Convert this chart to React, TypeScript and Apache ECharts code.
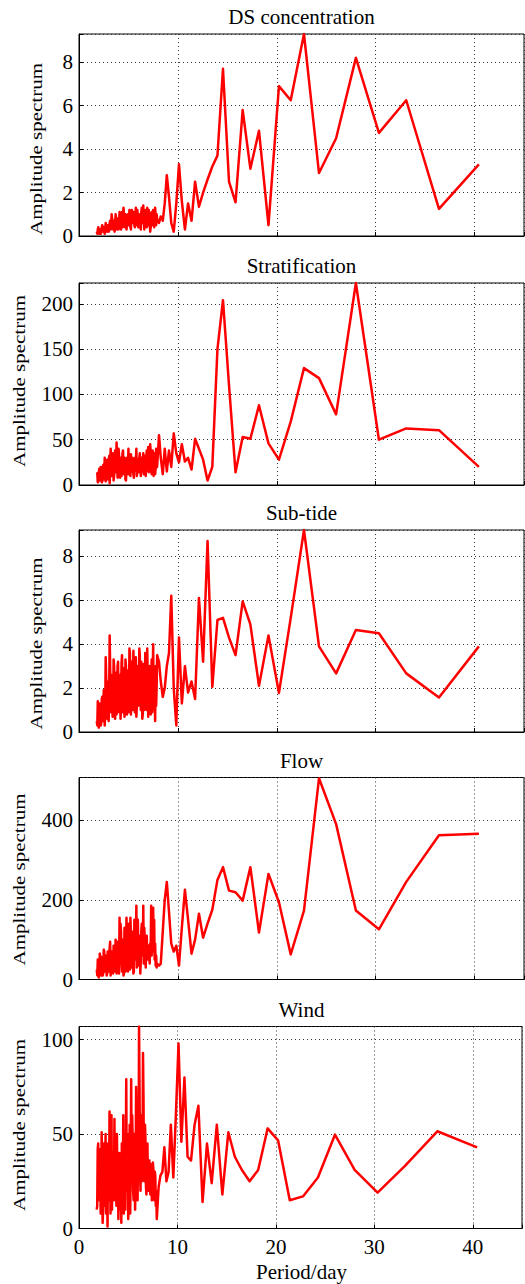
import React, { useEffect, useRef } from "react";
import * as echarts from "echarts";

// Periods (days): harmonics 364/k for k = 9..45, then the dense short-period band (step 0.05)
const PERIODS = [
  40.44, 36.4, 33.09, 30.33, 28.0, 26.0, 24.27, 22.75, 21.41, 20.22,
  19.16, 18.2, 17.33, 16.55, 15.83, 15.17, 14.56, 14.0, 13.48, 13.0,
  12.55, 12.13, 11.74, 11.38, 11.03, 10.71, 10.4, 10.11, 9.84, 9.58,
  9.33, 9.1, 8.88, 8.67, 8.47, 8.27, 8.09,
  7.9, 7.85, 7.8, 7.75, 7.7, 7.65, 7.6, 7.55, 7.5, 7.45, 7.4, 7.35, 7.3, 7.25, 7.2, 7.15, 7.1, 7.05, 7.0, 6.95,
  6.9, 6.85, 6.8, 6.75, 6.7, 6.65, 6.6, 6.55, 6.5, 6.45, 6.4, 6.35, 6.3, 6.25, 6.2, 6.15, 6.1, 6.05, 6.0, 5.95,
  5.9, 5.85, 5.8, 5.75, 5.7, 5.65, 5.6, 5.55, 5.5, 5.45, 5.4, 5.35, 5.3, 5.25, 5.2, 5.15, 5.1, 5.05, 5.0, 4.95,
  4.9, 4.85, 4.8, 4.75, 4.7, 4.65, 4.6, 4.55, 4.5, 4.45, 4.4, 4.35, 4.3, 4.25, 4.2, 4.15, 4.1, 4.05, 4.0, 3.95,
  3.9, 3.85, 3.8, 3.75, 3.7, 3.65, 3.6, 3.55, 3.5, 3.45, 3.4, 3.35, 3.3, 3.25, 3.2, 3.15, 3.1, 3.05, 3.0, 2.95,
  2.9, 2.85, 2.8, 2.75, 2.7, 2.65, 2.6, 2.55, 2.5, 2.45, 2.4, 2.35, 2.3, 2.25, 2.2, 2.15, 2.1, 2.05, 2.0, 1.95,
  1.9, 1.85, 1.8,
];

const DS_CONCENTRATION = [
  3.3, 1.25, 6.25, 4.75, 8.2, 4.5, 2.9, 9.3, 6.25, 6.9,
  0.5, 4.85, 3.1, 5.8, 1.55, 2.5, 7.7, 3.7, 3.2, 2.6,
  2.0, 1.35, 2.5, 0.7, 1.5, 0.3, 1.6, 3.3, 1.5, 0.2,
  0.6, 1.8, 2.8, 1.5, 0.7, 0.9, 0.6,
  0.8, 1.0, 0.5, 0.9, 1.3, 0.6, 0.4, 0.9, 1.2, 0.5, 0.7, 1.1, 1.0, 0.4, 0.2, 0.6, 0.9, 1.2, 0.5, 0.8,
  1.3, 0.4, 0.6, 1.2, 1.0, 0.7, 0.3, 0.9, 1.4, 1.0, 0.6, 1.3, 1.1, 0.3, 0.5, 1.0, 0.9, 0.6, 0.4, 0.8,
  1.2, 0.5, 0.7, 1.3, 1.0, 0.4, 0.5, 0.9, 1.1, 0.7, 0.6, 1.2, 0.9, 0.3, 0.4, 0.8, 1.2, 0.7, 0.5, 1.0,
  0.8, 0.5, 0.3, 0.9, 1.0, 0.4, 0.6, 1.0, 1.3, 0.7, 0.4, 1.1, 0.9, 0.3, 0.5, 0.8, 1.1, 0.6, 0.3, 0.7,
  0.8, 0.3, 0.5, 0.8, 1.0, 0.5, 0.2, 0.6, 0.7, 0.3, 0.4, 0.8, 1.0, 0.5, 0.3, 0.7, 0.6, 0.3, 0.2, 0.5,
  0.5, 0.2, 0.3, 0.5, 0.6, 0.3, 0.1, 0.4, 0.4, 0.2, 0.2, 0.5, 0.4, 0.2, 0.1, 0.3, 0.3, 0.1, 0.1, 0.4,
  0.3, 0.1, 0.2,
];

const STRATIFICATION = [
  20, 60.5, 62.5, 50, 223, 78, 118, 129, 70, 28,
  46, 88, 51, 53, 14, 110, 204, 150, 20, 5,
  28, 40, 51, 17, 30, 26, 45, 25, 35, 57,
  20, 38, 15, 40, 12, 30, 55,
  20, 33, 40, 18, 12, 28, 35, 10, 18, 38, 30, 12, 15, 36, 45, 22, 20, 14, 42, 25,
  16, 38, 30, 10, 14, 32, 25, 12, 35, 20, 15, 30, 28, 10, 18, 35, 30, 20, 14, 28,
  22, 10, 40, 25, 16, 30, 25, 8, 12, 28, 30, 15, 20, 34, 10, 22, 24, 12, 40, 20,
  12, 30, 18, 5, 6, 22, 30, 12, 14, 38, 35, 18, 10, 30, 25, 8, 16, 33, 40, 15,
  8, 30, 47, 20, 14, 38, 30, 10, 5, 25, 35, 12, 10, 28, 40, 15, 2, 32, 25, 6,
  8, 28, 22, 10, 4, 20, 30, 12, 6, 22, 18, 4, 3, 15, 20, 6, 5, 18, 14, 4,
  3, 13, 12,
];

const SUB_TIDE = [
  3.9, 1.57, 2.67, 4.5, 4.65, 2.67, 3.9, 9.2, 5.2, 1.78,
  4.4, 2.1, 4.9, 5.95, 3.5, 4.3, 5.2, 5.1, 2.05, 8.7,
  3.2, 6.1, 1.5, 2.3, 1.8, 3.0, 1.3, 4.3, 0.3, 2.0,
  6.2, 3.6, 3.0, 2.0, 1.6, 2.3, 3.2,
  3.5, 2.0, 1.2, 3.0, 0.5, 1.8, 2.6, 1.0, 4.0, 2.2, 0.9, 3.3, 2.4, 0.8, 1.1, 2.8, 3.0, 1.4, 0.7, 2.5,
  3.8, 1.0, 1.6, 2.9, 3.6, 1.3, 1.0, 3.1, 2.5, 0.8, 0.6, 2.7, 3.2, 1.0, 1.8, 3.5, 3.8, 1.5, 1.2, 2.6,
  3.0, 1.2, 0.7, 3.4, 2.6, 0.9, 1.5, 2.8, 3.7, 1.4, 1.0, 2.5, 3.2, 0.8, 1.6, 3.6, 3.8, 1.3, 0.9, 2.7,
  2.8, 0.8, 1.3, 3.0, 3.3, 1.1, 0.7, 2.4, 2.9, 0.9, 1.5, 3.5, 3.1, 1.2, 0.6, 2.6, 2.4, 0.9, 1.2, 3.2,
  3.0, 1.0, 0.8, 2.7, 2.2, 0.6, 1.4, 3.0, 3.3, 1.2, 0.7, 2.5, 2.6, 0.9, 1.1, 3.0, 4.4, 1.5, 0.5, 2.3,
  2.0, 0.6, 0.9, 2.5, 3.4, 1.0, 0.3, 1.8, 1.9, 0.5, 0.6, 1.6, 1.5, 0.4, 0.3, 1.2, 1.3, 0.3, 0.2, 1.1,
  1.4, 0.3, 0.5,
];

const FLOW = [
  366, 362, 245, 126, 173, 390, 505, 173, 63, 194,
  265, 118, 282, 198, 219, 223, 282, 250, 175, 140,
  105, 165, 100, 65, 150, 225, 130, 35, 85, 70,
  90, 170, 245, 200, 120, 40, 35,
  40, 30, 60, 35, 90, 50, 150, 70, 180, 100, 120, 60, 185, 75, 90, 40, 60, 80, 85, 50,
  55, 110, 95, 30, 60, 100, 130, 40, 185, 60, 80, 140, 120, 45, 15, 90, 110, 35, 80, 150,
  125, 30, 185, 70, 50, 120, 150, 20, 15, 90, 120, 30, 40, 110, 155, 25, 60, 140, 125, 20,
  30, 110, 155, 40, 20, 90, 130, 15, 10, 80, 100, 20, 45, 120, 140, 60, 155, 15, 30, 75,
  95, 30, 15, 85, 100, 20, 40, 75, 85, 15, 20, 65, 70, 25, 10, 95, 80, 20, 35, 60,
  70, 15, 10, 55, 60, 20, 25, 70, 75, 15, 10, 45, 55, 10, 20, 60, 65, 15, 5, 40,
  50, 10, 25,
];

const WIND = [
  43, 51.5, 33, 19, 31, 49.7, 27, 17, 15, 46.7,
  53, 31, 25, 31, 38, 51, 18, 55, 24, 45,
  14, 65, 55, 36, 38, 80, 46, 98, 60, 27,
  55, 30, 25, 43, 30, 28, 22,
  5, 20, 12, 28, 30, 15, 20, 32, 35, 22, 15, 30, 34, 18, 24, 36, 30, 20, 26, 45,
  40, 18, 22, 48, 55, 25, 30, 70, 93, 35, 25, 60, 50, 20, 30, 75, 107, 30, 40, 15,
  23, 60, 75, 28, 10, 45, 50, 15, 20, 48, 60, 25, 79, 30, 8, 55, 40, 12, 5, 45,
  50, 20, 79, 35, 10, 50, 40, 8, 60, 25, 15, 45, 3, 30, 38, 10, 40, 20, 5, 35,
  30, 50, 12, 40, 45, 20, 58, 15, 15, 40, 35, 10, 60, 30, 8, 50, 62, 15, 20, 45,
  1, 30, 35, 8, 50, 20, 12, 45, 40, 10, 3, 38, 51, 12, 8, 42, 40, 18, 15, 45,
  42, 12, 10,
];

const TITLES = ["DS concentration", "Stratification", "Sub-tide", "Flow", "Wind"];
const SERIES = [DS_CONCENTRATION, STRATIFICATION, SUB_TIDE, FLOW, WIND];
const Y_MAX = [9.3, 223, 9.2, 507, 107];
const Y_INTERVAL = [2, 50, 2, 200, 50];
const X_TICKS = [0, 10, 20, 30, 40];
const X_NAME = "Period/day";
const Y_NAME = "Amplitude spectrum";

export default function App() {
  const ref = useRef<HTMLDivElement>(null);

  useEffect(() => {
    if (!ref.current) return;
    const chart = echarts.init(ref.current, null, { renderer: "svg" });
    const FONT = "'Liberation Serif', 'Times New Roman', serif";
    const tops = [34, 283, 530, 777.5, 1026.5];
    const H = 202;
    const LEFT = 79;
    const W = 445;
    const yNameX = [36, 19, 36, 19, 19];
    const yNameY = [149, 381, 643.5, 879.5, 1125];

    const grid = tops.map((t) => ({
      left: LEFT,
      top: t,
      width: W,
      height: H,
      show: true,
      borderColor: "#000",
      borderWidth: 1,
      backgroundColor: "transparent",
    }));

    const gridLine = { color: "#333", type: [1, 3] as any, width: 1 };

    const xAxis = tops.map((_, i) => ({
      type: "value",
      gridIndex: i,
      min: 0,
      max: 45,
      interval: 10,
      axisLine: { show: true, onZero: false, lineStyle: { color: "#000", width: 1 } },
      axisTick: { show: true, inside: true, length: 4, lineStyle: { color: "#000" } },
      axisLabel: {
        show: i === tops.length - 1,
        formatter: (v: number) => (X_TICKS.includes(v) ? String(v) : ""),
        color: "#000",
        fontFamily: FONT,
        fontSize: 21,
        margin: 8,
      },
      splitLine: { show: true, lineStyle: gridLine },
    }));

    const yAxis = tops.map((_, i) => ({
      type: "value",
      gridIndex: i,
      min: 0,
      max: Y_MAX[i],
      interval: Y_INTERVAL[i],
      axisLine: { show: true, onZero: false, lineStyle: { color: "#000", width: 1 } },
      axisTick: { show: true, inside: true, length: 4, lineStyle: { color: "#000" } },
      axisLabel: {
        formatter: (v: number) =>
          Math.abs(v / Y_INTERVAL[i] - Math.round(v / Y_INTERVAL[i])) < 1e-6 ? String(Math.round(v)) : "",
        color: "#000",
        fontFamily: FONT,
        fontSize: 21,
        margin: 6,
      },
      splitLine: { show: true, lineStyle: gridLine },
    }));

    const series = SERIES.map((vals, i) => ({
      type: "line",
      xAxisIndex: i,
      yAxisIndex: i,
      data: PERIODS.map((p, j) => [p, vals[j]]),
      showSymbol: false,
      symbol: "none",
      lineStyle: { color: "#ff0000", width: 2.5, join: "round" },
      itemStyle: { color: "#ff0000" },
    }));

    const graphic: any[] = [];
    tops.forEach((t, i) => {
      graphic.push({
        type: "text",
        x: LEFT + W / 2,
        y: t - 17,
        style: {
          text: TITLES[i],
          fontFamily: FONT,
          fontSize: 21,
          fill: "#000",
          textAlign: "center",
          textVerticalAlign: "middle",
        },
      });
      graphic.push({
        type: "text",
        x: yNameX[i],
        y: yNameY[i],
        rotation: Math.PI / 2,
        scaleY: 0.8,
        style: {
          text: Y_NAME,
          fontFamily: FONT,
          fontSize: 21,
          fill: "#000",
          textAlign: "center",
          textVerticalAlign: "middle",
        },
      });
    });
    graphic.push({
      type: "text",
      x: LEFT + W / 2,
      y: 1272,
      style: {
        text: X_NAME,
        fontFamily: FONT,
        fontSize: 21,
        fill: "#000",
        textAlign: "center",
        textVerticalAlign: "middle",
      },
    });

    chart.setOption({
      animation: false,
      backgroundColor: "#fff",
      grid,
      xAxis,
      yAxis,
      series,
      graphic,
    } as any);

    return () => chart.dispose();
  }, []);

  return (
    <div
      ref={ref}
      style={{ position: "absolute", left: 0, top: 0, width: 525, height: 1284 }}
    />
  );
}
